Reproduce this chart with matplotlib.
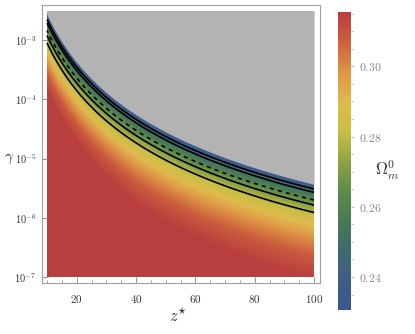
import numpy as np
import matplotlib
matplotlib.use("Agg")
import matplotlib.pyplot as plt
from matplotlib.colors import LinearSegmentedColormap
from matplotlib.ticker import MultipleLocator, FixedLocator, NullFormatter

plt.rcParams['mathtext.fontset'] = 'cm'
plt.rcParams['font.family'] = 'serif'
plt.rcParams['font.serif'] = ['DejaVu Serif']

# upper edge of the allowed region (z*, log10 gamma)
edge_z = [10, 15, 20, 25, 30, 40, 50, 60, 70, 80, 90, 100]
edge_lg = [-2.58, -3.03, -3.34, -3.68, -3.92, -4.24, -4.56, -4.78, -4.98, -5.15, -5.31, -5.44]

# Omega_m^0 profile below that edge (decades under the edge -> value)
prof_d = [0.0, 0.078, 0.136, 0.264, 0.35, 0.475, 0.7, 0.95, 1.25, 1.6, 6.0]
prof_om = [0.231, 0.243, 0.250, 0.262, 0.270, 0.279, 0.290, 0.300, 0.309, 0.315, 0.315]

# how stretched the outer (yellow -> red) part is along z*
stretch_z = [10, 40, 100]
stretch_f = [0.7, 0.9, 1.0]

solid_levels = [0.243, 0.250, 0.270, 0.279]
dashed_levels = [0.262]

cbar_ticks = [0.24, 0.26, 0.28, 0.30]
om_min, om_max = 0.2306, 0.3155

cmap = LinearSegmentedColormap.from_list("darkrainbow", [
    (0.00, (0.238, 0.340, 0.575)),
    (0.10, (0.245, 0.370, 0.530)),
    (0.20, (0.250, 0.415, 0.430)),
    (0.30, (0.285, 0.480, 0.330)),
    (0.40, (0.370, 0.550, 0.290)),
    (0.50, (0.560, 0.640, 0.260)),
    (0.60, (0.790, 0.745, 0.270)),
    (0.70, (0.870, 0.730, 0.300)),
    (0.80, (0.875, 0.580, 0.275)),
    (0.90, (0.800, 0.380, 0.240)),
    (1.00, (0.720, 0.240, 0.240)),
])
cmap.set_bad('#b3b3b3')

# build the field
coef = np.polyfit(np.log10(edge_z), edge_lg, 3)
zz = np.linspace(10, 100, 600)
lg = np.linspace(-7, -2.51, 1200)
Z, LG = np.meshgrid(zz, lg)
d = np.polyval(coef, np.log10(Z)) - LG
f = np.interp(Z, stretch_z, stretch_f)
d = np.where(d > 0.475, 0.475 + (d - 0.475) / f, d)
om = np.interp(d, prof_d, prof_om)
om = np.ma.masked_where(d < -0.03, om)
G = 10.0 ** LG

fig = plt.figure(figsize=(4.15, 3.34), dpi=100)
ax = fig.add_axes([0.1012, 0.1527, 0.6699, 0.8323])
ax.set_yscale('log')
mesh = ax.pcolormesh(Z, G, om, cmap=cmap, vmin=om_min, vmax=om_max,
                     shading='auto', rasterized=True)
om_c = om.filled(np.nan)
ax.contour(Z, G, om_c, levels=solid_levels, colors='black', linewidths=1.2)
ax.contour(Z, G, om_c, levels=dashed_levels, colors='black',
           linewidths=1.2, linestyles=[(0, (2.5, 2.5))])

# excluded region above the edge, drawn smooth
edge = 10.0 ** np.polyval(coef, np.log10(zz))
ax.fill_between(zz, edge, 10 ** -2.51, color='#b3b3b3', lw=0, zorder=3)

ax.set_xlim(8.31, 102.0)
ax.set_ylim(10 ** -7.10, 10 ** -2.41)

for s in ax.spines.values():
    s.set_color('#a0a0a0')
    s.set_linewidth(0.8)

ax.xaxis.set_major_locator(FixedLocator([20, 40, 60, 80, 100]))
ax.xaxis.set_minor_locator(FixedLocator([10, 15, 25, 30, 35, 45, 50, 55, 65, 70, 75, 85, 90, 95]))
ax.set_xticklabels([r'$20$', r'$40$', r'$60$', r'$80$', r'$100$'])
ax.yaxis.set_major_locator(FixedLocator([1e-7, 1e-6, 1e-5, 1e-4, 1e-3]))
ax.yaxis.set_minor_locator(FixedLocator([]))
ax.yaxis.set_minor_formatter(NullFormatter())
ax.set_yticklabels([r'$10^{-7}$', r'$10^{-6}$', r'$10^{-5}$', r'$10^{-4}$', r'$10^{-3}$'])
ax.tick_params(which='major', direction='in', length=4, width=0.6, color='#808080',
               labelsize=7.5, labelcolor='#333333', top=False, right=False, pad=4)
ax.tick_params(axis='x', which='major', labelsize=8, pad=7)
ax.tick_params(which='minor', direction='in', length=2, width=0.5, color='#808080',
               top=False, right=False)

fig.text(0.43, 0.051, r'$z^{\star}$', fontsize=12, color='#333333',
         ha='center', va='center')
fig.text(0.021, 0.524, r'$\gamma$', fontsize=11, color='#333333',
         ha='center', va='center')

cax = fig.add_axes([0.8145, 0.0719, 0.0313, 0.8922])
cb = fig.colorbar(mesh, cax=cax)
cb.outline.set_visible(False)
cb.set_ticks(cbar_ticks)
cb.set_ticklabels([r'$0.24$', r'$0.26$', r'$0.28$', r'$0.30$'])
cax.yaxis.set_minor_locator(MultipleLocator(0.005))
cax.tick_params(which='major', length=2.5, width=0.5, color='#a0a0a0',
                labelsize=8.5, labelcolor='#888888', pad=3)
cax.tick_params(which='minor', length=1.5, width=0.5, color='#a0a0a0')
fig.text(0.933, 0.49, r'$\Omega_m^0$', fontsize=12, color='#333333',
         ha='center', va='center')

fig.savefig('out.png', dpi=100)
